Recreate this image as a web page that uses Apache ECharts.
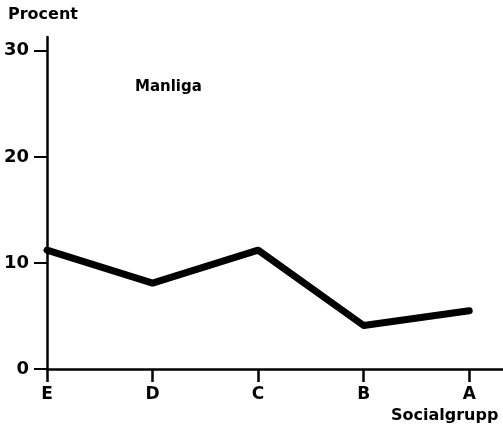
<!DOCTYPE html>
<html>
<head>
<meta charset="utf-8">
<script src="https://cdn.jsdelivr.net/npm/echarts@6/dist/echarts.min.js"></script>
<style>html,body{margin:0;padding:0;background:#fff;}#c{width:503px;height:432px;}</style>
</head>
<body>
<div id="c"></div>
<script>
var categories = ['E', 'D', 'C', 'B', 'A'];
var values = [11.2, 8.1, 11.2, 4.1, 5.5];
var yTicks = [0, 10, 20, 30];
var seriesName = 'Manliga';
var yTitle = 'Procent';
var xTitle = 'Socialgrupp';

var catIdx = categories.map(function (c, i) { return i; });
var data = categories.map(function (c, i) { return [i, values[i]]; });
var font = 'DejaVu Sans';

var chart = echarts.init(document.getElementById('c'), null, {renderer: 'canvas'});
chart.setOption({
  animation: false,
  backgroundColor: '#fff',
  grid: {left: 47, right: 0, top: 37, bottom: 63, containLabel: false, outerBoundsMode: 'none'},
  xAxis: {
    type: 'value', min: 0, max: 4.32,
    splitLine: {show: false},
    axisLine: {show: true, lineStyle: {color: '#000', width: 2.5}},
    axisTick: {show: true, customValues: catIdx, length: 13, lineStyle: {color: '#000', width: 2.5}},
    axisLabel: {
      customValues: catIdx, margin: 17, color: '#000',
      fontFamily: font, fontWeight: 'bold', fontSize: 17,
      formatter: function (v) { return categories[Math.round(v)]; }
    }
  },
  yAxis: {
    type: 'value', min: 0, max: 31.3,
    splitLine: {show: false},
    axisLine: {show: true, onZero: false, lineStyle: {color: '#000', width: 2.5}},
    axisTick: {show: true, customValues: yTicks, length: 13, lineStyle: {color: '#000', width: 2}},
    axisLabel: {customValues: yTicks, margin: 18, color: '#000', fontFamily: font, fontWeight: 'bold', fontSize: 18}
  },
  graphic: [
    {type: 'text', left: 8, top: 7, style: {text: yTitle, fill: '#000', font: 'bold 16px "DejaVu Sans"'}},
    {type: 'text', left: 391, top: 408, style: {text: xTitle, fill: '#000', font: 'bold 16px "DejaVu Sans"'}},
    {type: 'text', left: 135, top: 80, style: {text: seriesName, fill: '#000', font: 'bold 15px "DejaVu Sans"'}}
  ],
  series: [{
    type: 'line', name: seriesName, data: data,
    showSymbol: false, symbol: 'none',
    lineStyle: {color: '#000', width: 7, cap: 'round', join: 'round'}
  }]
});
</script>
</body>
</html>
